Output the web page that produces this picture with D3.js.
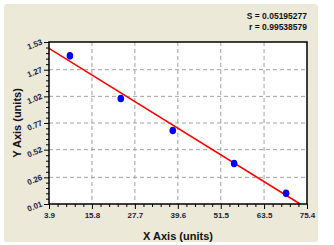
<!DOCTYPE html>
<html>
<head>
<meta charset="utf-8">
<script src="https://cdn.jsdelivr.net/npm/d3@7"></script>
<style>
  body { margin: 0; background: #fff; }
  svg { display: block; font-family: Arial, "Liberation Sans", sans-serif; }
</style>
</head>
<body>
<svg id="viz" width="334" height="245"></svg>
<script>
// data
var xTicks = [3.9, 15.8, 27.7, 39.6, 51.5, 63.5, 75.4];
var yTicks = [0.01, 0.26, 0.52, 0.77, 1.02, 1.27, 1.53];
var xVals = [9.7, 23.8, 38.2, 55.2, 69.6];
var yVals = [1.40, 1.00, 0.70, 0.39, 0.11];
var fitX = [3.9, 73.5];
var fitY = [1.471, 0.01];
var statLines = ["S = 0.05195277", "r = 0.99538579"];

var svg = d3.select("#viz");
var margin = { top: 42, right: 27, bottom: 41, left: 49 };
var width = 334 - margin.left - margin.right,
    height = 245 - margin.top - margin.bottom;

// panel
svg.append("rect")
    .attr("x", 4).attr("y", 4)
    .attr("width", 314).attr("height", 238)
    .attr("rx", 3)
    .attr("fill", "#ECE9D8");

var x = d3.scaleLinear().domain([xTicks[0], xTicks[xTicks.length - 1]]).range([0, width]);
var y = d3.scaleLinear().domain([yTicks[0], yTicks[yTicks.length - 1]]).range([height, 0]);

var g = svg.append("g")
    .attr("transform", "translate(" + margin.left + "," + margin.top + ")");

g.append("rect")
    .attr("width", width).attr("height", height)
    .attr("fill", "#fff");

// grid
g.selectAll(".vgrid")
    .data(xTicks.slice(1, -1))
    .enter().append("line")
    .attr("class", "vgrid")
    .attr("x1", function (d) { return x(d); })
    .attr("x2", function (d) { return x(d); })
    .attr("y1", 0).attr("y2", height)
    .attr("stroke", "#a0a0a0")
    .attr("stroke-dasharray", "4,3");

g.selectAll(".hgrid")
    .data(yTicks.slice(1, -1))
    .enter().append("line")
    .attr("class", "hgrid")
    .attr("y1", function (d) { return y(d); })
    .attr("y2", function (d) { return y(d); })
    .attr("x1", 0).attr("x2", width)
    .attr("stroke", "#a0a0a0")
    .attr("stroke-dasharray", "4,3");

// minor ticks between majors
function minors(ticks, n) {
    var out = [];
    for (var i = 0; i < ticks.length - 1; i++) {
        for (var k = 1; k < n; k++) {
            out.push(ticks[i] + (ticks[i + 1] - ticks[i]) * k / n);
        }
    }
    return out;
}

var xAxisG = g.append("g")
    .attr("transform", "translate(0," + height + ")");
xAxisG.append("g")
    .call(d3.axisBottom(x).tickValues(minors(xTicks, 5)).tickSize(3).tickFormat(""))
    .call(function (s) { s.select(".domain").remove(); });
xAxisG.append("g")
    .call(d3.axisBottom(x).tickValues(xTicks).tickSize(5).tickPadding(3)
        .tickFormat(function (d) { return d.toFixed(1); }))
    .call(function (s) { s.select(".domain").remove(); })
    .selectAll("text")
    .attr("font-size", "8px")
    .attr("font-weight", "bold")
    .attr("fill", "#1c1c40");

var yAxisG = g.append("g");
yAxisG.append("g")
    .call(d3.axisLeft(y).tickValues(minors(yTicks, 5)).tickSize(3).tickFormat(""))
    .call(function (s) { s.select(".domain").remove(); });
yAxisG.append("g")
    .call(d3.axisLeft(y).tickValues(yTicks).tickSize(5).tickFormat(""))
    .call(function (s) { s.select(".domain").remove(); });

yAxisG.selectAll(".ylab")
    .data(yTicks)
    .enter().append("text")
    .attr("class", "ylab")
    .attr("transform", function (d) { return "translate(-6," + (y(d) + 2) + ") rotate(-22)"; })
    .attr("text-anchor", "end")
    .attr("font-size", "8px")
    .attr("font-weight", "bold")
    .attr("fill", "#1c1c40")
    .text(function (d) { return d.toFixed(2); });

g.selectAll(".tick line").attr("stroke", "#000");

// fit line
var clip = g.append("clipPath").attr("id", "clip")
    .append("rect").attr("width", width).attr("height", height);

g.append("line")
    .attr("x1", x(fitX[0])).attr("y1", y(fitY[0]))
    .attr("x2", x(fitX[1])).attr("y2", y(fitY[1]))
    .attr("stroke", "#ff0000")
    .attr("stroke-width", 1.5);

// points
g.selectAll(".pt")
    .data(xVals)
    .enter().append("ellipse")
    .attr("class", "pt")
    .attr("cx", function (d) { return x(d); })
    .attr("cy", function (d, i) { return y(yVals[i]); })
    .attr("rx", 3.3).attr("ry", 3.8)
    .attr("fill", "#0000ff");

// frame
g.append("rect")
    .attr("width", width).attr("height", height)
    .attr("fill", "none")
    .attr("stroke", "#000")
    .attr("stroke-width", 1.5);

// titles
svg.append("text")
    .attr("x", margin.left + width / 2).attr("y", 240)
    .attr("text-anchor", "middle")
    .attr("font-size", "11px").attr("font-weight", "bold")
    .attr("fill", "#111")
    .text("X Axis (units)");

svg.append("text")
    .attr("transform", "translate(21," + (margin.top + height / 2) + ") rotate(-90)")
    .attr("text-anchor", "middle")
    .attr("font-size", "11px").attr("font-weight", "bold")
    .attr("fill", "#111")
    .text("Y Axis (units)");

svg.selectAll(".stat")
    .data(statLines)
    .enter().append("text")
    .attr("class", "stat")
    .attr("x", 307)
    .attr("y", function (d, i) { return 19 + i * 11; })
    .attr("text-anchor", "end")
    .attr("font-size", "8.5px").attr("font-weight", "bold")
    .attr("fill", "#111")
    .text(function (d) { return d; });
</script>
</body>
</html>
